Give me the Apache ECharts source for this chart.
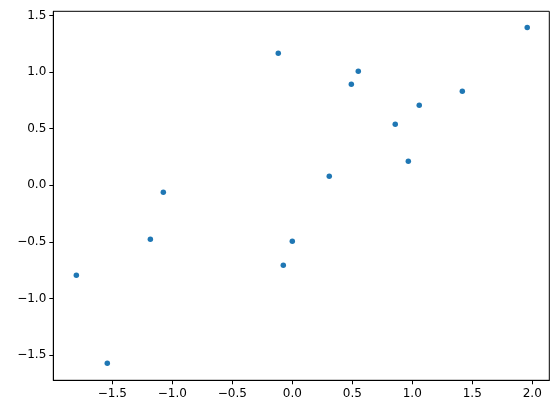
<!DOCTYPE html>
<html><head><meta charset="utf-8">
<script src="https://cdn.jsdelivr.net/npm/echarts@6/dist/echarts.min.js"></script>
<style>html,body{margin:0;padding:0;background:#fff}#c{width:559px;height:414px}</style>
</head><body><div id="c"></div>
<script>
const xValues = [-0.117, 1.958, 0.550, 0.492, 1.417, 1.058, 0.858, 0.967, 0.308, -1.075, -1.183, 0.000, -0.075, -1.800, -1.542];
const yValues = [1.165, 1.394, 1.006, 0.891, 0.830, 0.706, 0.538, 0.212, 0.079, -0.062, -0.477, -0.494, -0.706, -0.794, -1.571];
const xTicks = [-1.5, -1.0, -0.5, 0.0, 0.5, 1.0, 1.5, 2.0];
const yTicks = [-1.5, -1.0, -0.5, 0.0, 0.5, 1.0, 1.5];

const fmt = v => (v < 0 ? '\u2212' : '') + Math.abs(v).toFixed(1);
const points = xValues.map((x, i) => [x, yValues[i]]);
const chart = echarts.init(document.getElementById('c'), null, {renderer: 'canvas'});
const axisCommon = {
  type: 'value',
  axisLine: {show: true, onZero: false, lineStyle: {color: '#000', width: 1}},
  axisTick: {show: true, inside: false, length: 4, lineStyle: {color: '#000', width: 1}},
  splitLine: {show: false},
};
chart.setOption({
  animation: false,
  backgroundColor: '#fff',
  grid: {left: 53.3, top: 11.3, right: 9.7, bottom: 33.7, show: true, borderColor: '#000', borderWidth: 1, containLabel: false},
  xAxis: Object.assign({}, axisCommon, {
    min: -1.992, max: 2.142,
    axisTick: Object.assign({}, axisCommon.axisTick, {customValues: xTicks}),
    axisLabel: {customValues: xTicks, formatter: fmt, color: '#000', fontSize: 12, fontFamily: 'DejaVu Sans', margin: 8},
  }),
  yAxis: Object.assign({}, axisCommon, {
    min: -1.721, max: 1.536,
    axisTick: Object.assign({}, axisCommon.axisTick, {customValues: yTicks}),
    axisLabel: {customValues: yTicks, formatter: fmt, color: '#000', fontSize: 12, fontFamily: 'DejaVu Sans', margin: 7},
  }),
  series: [{
    type: 'scatter',
    data: points,
    symbol: 'circle',
    symbolSize: 5.5,
    itemStyle: {color: '#1f77b4', opacity: 1},
  }],
});
</script></body></html>
